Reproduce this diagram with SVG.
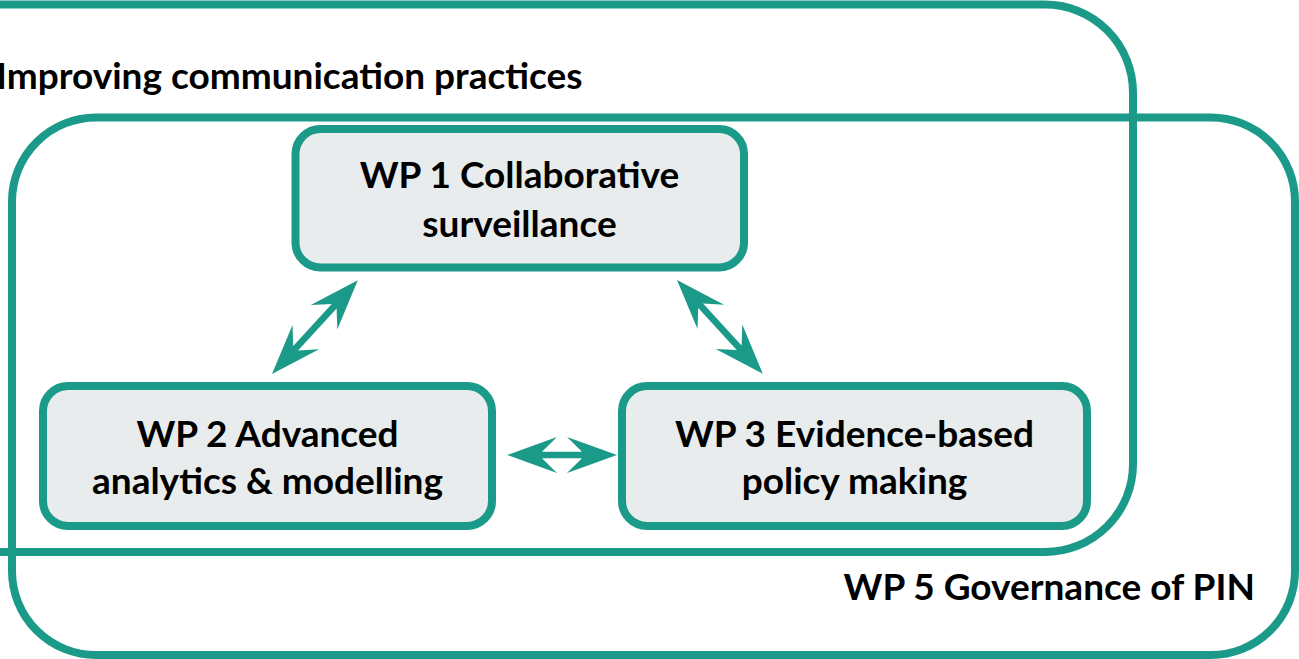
<svg xmlns="http://www.w3.org/2000/svg" width="1299" height="659" viewBox="0 0 1299 659">
<style>
.frame{fill:none;stroke:#1b9a89;stroke-width:8}
.box{fill:#e8eced;stroke:#1b9a89;stroke-width:8}
.arrow{fill:#1b9a89}
text{font-family:Lato,"Liberation Sans",sans-serif;font-weight:700;font-size:37px;fill:#000}
.c{text-anchor:middle}
</style>
<rect width="1299" height="659" fill="#fff"/>
<g id="frame-communication">
<rect class="frame" x="-100" y="4.5" width="1233" height="547.5" rx="88" ry="88"/>
<text x="-4" y="89">Improving communication practices</text>
</g>
<g id="frame-governance">
<rect class="frame" x="12" y="117.5" width="1283" height="537.5" rx="84" ry="84"/>
<text x="1255" y="600" text-anchor="end">WP 5 Governance of PIN</text>
</g>
<g id="connectors">
<polygon class="arrow" transform="translate(272,374) rotate(-47.5)" points="0,0 50,-18 35,-3.3 92,-3.3 77,-18 127,0 77,18 92,3.3 35,3.3 50,18"/>
<polygon class="arrow" transform="translate(677,280) rotate(47.5)" points="0,0 50,-18 35,-3.3 92,-3.3 77,-18 127,0 77,18 92,3.3 35,3.3 50,18"/>
<polygon class="arrow" transform="translate(507,455)" points="0,0 50,-18 35,-3.3 75,-3.3 60,-18 110,0 60,18 75,3.3 35,3.3 50,18"/>
</g>
<g id="wp1">
<rect class="box" x="295.5" y="129" width="448.5" height="138.5" rx="25" ry="25"/>
<text class="c" x="519.5" y="188">WP 1 Collaborative</text>
<text class="c" x="519.5" y="236.5">surveillance</text>
</g>
<g id="wp2">
<rect class="box" x="43" y="386" width="449" height="140" rx="25" ry="25"/>
<text class="c" x="267.5" y="447">WP 2 Advanced</text>
<text class="c" x="267.5" y="493.5">analytics &amp; modelling</text>
</g>
<g id="wp3">
<rect class="box" x="622" y="386" width="465" height="140" rx="25" ry="25"/>
<text class="c" x="854.5" y="447">WP 3 Evidence-based</text>
<text class="c" x="854.5" y="493.5">policy making</text>
</g>
</svg>
